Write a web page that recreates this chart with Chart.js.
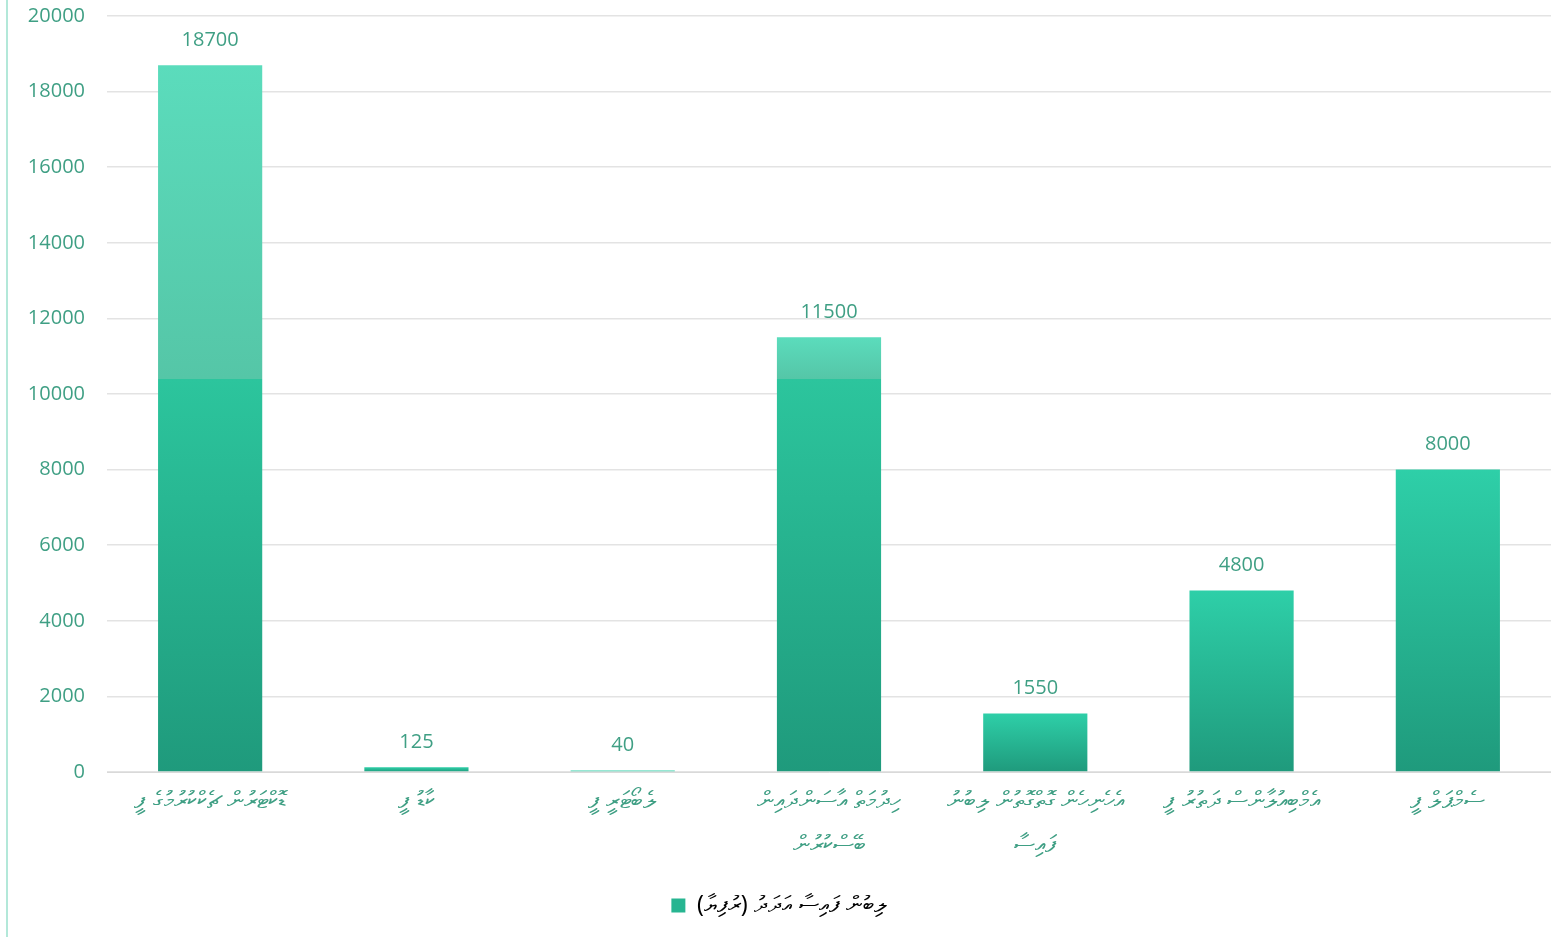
<!DOCTYPE html>
<html>
<head>
<meta charset="utf-8">
<script src="https://cdn.jsdelivr.net/npm/chart.js@4.4.1/dist/chart.umd.min.js"></script>
<style>
  html, body { margin: 0; padding: 0; background: #fff; }
  #wrap { position: relative; width: 1551px; height: 937px; }
  #wrap::before { content: ""; position: absolute; left: 6px; top: 0; width: 2px; height: 937px; background: #b3e8d9; }
</style>
</head>
<body>
<div id="wrap"><canvas id="chart" width="1551" height="937"></canvas></div>
<script>
// categories (Dhivehi), two-line ones as arrays
let categories = [
  "ޑޮކްޓަރުން ޗެކްކުރުމުގެ ފީ",
  "ކާޑު ފީ",
  "ލެބޯޓަރީ ފީ",
  ["ހިދުމަތް އާސަންދައިން", "ބޭސްކުރުން"],
  ["އެހެނިހެން ގޮތްގޮތުން ލިބުނު", "ފައިސާ"],
  "އެމްބިއުލާންސް ދަތުރު ފީ",
  "ސެމްޕަލް ފީ",
];

let amounts = [18700, 125, 40, 11500, 1550, 4800, 8000];

let yTicks = [0, 2000, 4000, 6000, 8000, 10000, 12000, 14000, 16000, 18000, 20000];

const seriesName = "ލިބުން ފައިސާ އަދަދު (ރުފިޔާ)";

const textColor = "#3f9f84";
const gradCap = 10400; // value where the bright part of the fill stops

// gradient per bar, in pixel space of the bar
function barFill(ctx) {
  const chart = ctx.chart;
  const area = chart.chartArea;
  if (!area || ctx.type !== "data") return "#2ecfa8";
  const y = chart.scales.y;
  const v = ctx.raw;
  const y0 = y.getPixelForValue(0);
  const yTop = y.getPixelForValue(v);
  if (yTop >= y0 - 4) return "#2ecfa8";
  const g = chart.ctx.createLinearGradient(0, y0, 0, yTop);
  g.addColorStop(0, "#1f9a7c");
  if (v > gradCap) {
    const f = gradCap / v;
    g.addColorStop(f, "#2cc59d");
    g.addColorStop(f, "#55c6a7");
    g.addColorStop(1, "#5bdcbc");
  } else {
    g.addColorStop(1, "#2ecfa8");
  }
  return g;
}

const valueLabels = {
  id: "valueLabels",
  afterDatasetsDraw(chart) {
    const c = chart.ctx;
    const meta = chart.getDatasetMeta(0);
    c.save();
    c.font = "20px 'Open Sans', 'Noto Sans', sans-serif";
    c.fillStyle = textColor;
    c.textAlign = "center";
    c.textBaseline = "middle";
    meta.data.forEach((bar, i) => {
      c.fillText(String(chart.data.datasets[0].data[i]), bar.x, bar.y - 25);
    });
    c.restore();
  },
};

new Chart(document.getElementById("chart"), {
  type: "bar",
  data: {
    labels: categories,
    datasets: [
      {
        label: seriesName,
        data: amounts,
        backgroundColor: barFill,
        borderWidth: 0,
        categoryPercentage: 1,
        barPercentage: 0.505,
      },
    ],
  },
  options: {
    responsive: false,
    animation: false,
    layout: { padding: { left: 7, top: 16, right: 0, bottom: 10 } },
    plugins: {
      tooltip: { enabled: false },
      legend: {
        position: "bottom",
        labels: {
          color: textColor,
          font: { family: "'Noto Sans', 'DejaVu Sans', sans-serif", size: 23 },
          boxWidth: 14,
          boxHeight: 14,
          padding: 6,
          generateLabels: function (chart) {
            return [
              {
                text: seriesName,
                fillStyle: "#27b591",
                strokeStyle: "#27b591",
                lineWidth: 0,
                hidden: false,
                datasetIndex: 0,
              },
            ];
          },
        },
      },
    },
    scales: {
      x: {
        grid: { display: false },
        border: { color: "#d9d9d9", width: 1 },
        ticks: {
          color: textColor,
          font: { family: "'Noto Sans', 'DejaVu Sans', sans-serif", size: 24, lineHeight: 1.8 },
          maxRotation: 0,
          autoSkip: false,
          padding: 0,
        },
        afterFit: (s) => { s.height = 116; },
      },
      y: {
        min: 0,
        max: 20000,
        afterBuildTicks: (s) => { s.ticks = yTicks.map((v) => ({ value: v })); },
        grid: { color: "#e3e3e3", tickLength: 0, lineWidth: 1.5 },
        border: { display: false },
        ticks: {
          color: textColor,
          font: { family: "'Open Sans', 'Noto Sans', sans-serif", size: 20 },
          padding: 22,
          callback: (v) => String(v),
        },
        afterFit: (s) => {
          s.width = 100;
          s.paddingTop = 0;
          s.paddingBottom = 0;
        },
      },
    },
  },
  plugins: [valueLabels],
});
</script>
</body>
</html>
